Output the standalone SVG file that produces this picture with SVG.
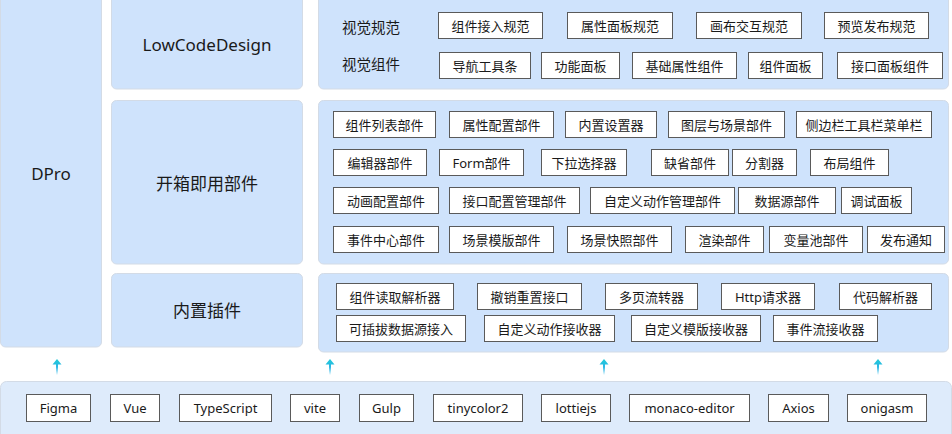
<svg xmlns="http://www.w3.org/2000/svg" width="952" height="434" viewBox="0 0 952 434">
<defs>
<style>
.panel{fill:#cfe3fc;stroke:#d3dbe6;stroke-width:1}
.base{fill:#deebfb;stroke:#d3dbe6;stroke-width:1}
.box{fill:#ffffff;stroke:#5a5a5a;stroke-width:1}
text{font-family:"Noto Sans","Noto Sans CJK SC",sans-serif;fill:#1a1a1a;text-anchor:middle;dominant-baseline:central}
.t{font-size:13px}
.h{font-size:17px}
.l{font-size:14.5px}
</style>
<linearGradient id="ag" x1="0" y1="0" x2="0" y2="1">
<stop offset="0" stop-color="#1fcbd6"/>
<stop offset="0.5" stop-color="#2bb6e6"/>
<stop offset="1" stop-color="#2bb6e6" stop-opacity="0"/>
</linearGradient>
</defs>

<g id="dpro"><rect class="panel" x="0.5" y="-5" width="101" height="352" rx="5"/><text class="h" x="51" y="173">DPro</text></g>
<g id="lowcodedesign"><rect class="panel" x="111.5" y="-5" width="191" height="94" rx="5"/><text class="h" x="207" y="44">LowCodeDesign</text></g>
<g id="kaixiang"><rect class="panel" x="111.5" y="100.5" width="191" height="163.5" rx="5"/><text class="h" x="207" y="183">开箱即用部件</text></g>
<g id="neizhi"><rect class="panel" x="111.5" y="273.5" width="191" height="73.5" rx="5"/><text class="h" x="207" y="310">内置插件</text></g>

<g id="panel-top"><rect class="panel" x="318.5" y="-5" width="630" height="94" rx="5"/></g>
<g id="panel-mid"><rect class="panel" x="318.5" y="100.5" width="630" height="163.5" rx="5"/></g>
<g id="panel-bot"><rect class="panel" x="318.5" y="273.5" width="630" height="78.5" rx="5"/></g>
<g id="panel-base"><rect class="base" x="0.5" y="381.5" width="951" height="60" rx="6"/></g>

<g id="label-shijueguifan"><text class="l" x="371" y="27">视觉规范</text></g>
<g id="label-shijuezujian"><text class="l" x="371" y="64">视觉组件</text></g>

<g id="n-zujianjieru"><rect class="box" x="438.5" y="12.5" width="104" height="26"/><text class="t" x="490.5" y="25.5">组件接入规范</text></g>
<g id="n-shuxingmianban"><rect class="box" x="567.5" y="12.5" width="105" height="26"/><text class="t" x="620" y="25.5">属性面板规范</text></g>
<g id="n-huabujiaohu"><rect class="box" x="696.5" y="12.5" width="105" height="26"/><text class="t" x="749" y="25.5">画布交互规范</text></g>
<g id="n-yulanfabu"><rect class="box" x="824.5" y="12.5" width="104" height="26"/><text class="t" x="876.5" y="25.5">预览发布规范</text></g>

<g id="n-daohang"><rect class="box" x="439.5" y="52.5" width="91" height="26"/><text class="t" x="485" y="65.5">导航工具条</text></g>
<g id="n-gongneng"><rect class="box" x="541.5" y="52.5" width="78" height="26"/><text class="t" x="580.5" y="65.5">功能面板</text></g>
<g id="n-jichushuxing"><rect class="box" x="632.5" y="52.5" width="104" height="26"/><text class="t" x="684.5" y="65.5">基础属性组件</text></g>
<g id="n-zujianmianban"><rect class="box" x="748.5" y="52.5" width="74" height="26"/><text class="t" x="785.5" y="65.5">组件面板</text></g>
<g id="n-jiekoumianban"><rect class="box" x="837.5" y="52.5" width="105" height="26"/><text class="t" x="890" y="65.5">接口面板组件</text></g>

<g id="n-zujianliebiao"><rect class="box" x="333.5" y="111.5" width="102" height="26"/><text class="t" x="384.5" y="124.5">组件列表部件</text></g>
<g id="n-shuxingpeizhi"><rect class="box" x="449.5" y="111.5" width="104" height="26"/><text class="t" x="501.5" y="124.5">属性配置部件</text></g>
<g id="n-neizhishezhi"><rect class="box" x="565.5" y="111.5" width="91" height="26"/><text class="t" x="611" y="124.5">内置设置器</text></g>
<g id="n-tuceng"><rect class="box" x="668.5" y="111.5" width="116" height="26"/><text class="t" x="726.5" y="124.5">图层与场景部件</text></g>
<g id="n-cebianlan"><rect class="box" x="796.5" y="111.5" width="135" height="26"/><text class="t" x="864" y="124.5">侧边栏工具栏菜单栏</text></g>

<g id="n-bianjiqi"><rect class="box" x="333.5" y="149.5" width="93" height="26"/><text class="t" x="380" y="162.5">编辑器部件</text></g>
<g id="n-form"><rect class="box" x="439.5" y="149.5" width="84" height="26"/><text class="t" x="481.5" y="162.5">Form部件</text></g>
<g id="n-xiala"><rect class="box" x="541.5" y="149.5" width="85" height="26"/><text class="t" x="584" y="162.5">下拉选择器</text></g>
<g id="n-quesheng"><rect class="box" x="651.5" y="149.5" width="77" height="26"/><text class="t" x="690" y="162.5">缺省部件</text></g>
<g id="n-fenge"><rect class="box" x="732.5" y="149.5" width="64" height="26"/><text class="t" x="764.5" y="162.5">分割器</text></g>
<g id="n-buju"><rect class="box" x="810.5" y="149.5" width="78" height="26"/><text class="t" x="849.5" y="162.5">布局组件</text></g>

<g id="n-donghua"><rect class="box" x="333.5" y="187.5" width="105" height="26"/><text class="t" x="386" y="200.5">动画配置部件</text></g>
<g id="n-jiekoupeizhi"><rect class="box" x="449.5" y="187.5" width="130" height="26"/><text class="t" x="514.5" y="200.5">接口配置管理部件</text></g>
<g id="n-zidingyidongzuo"><rect class="box" x="590.5" y="187.5" width="144" height="26"/><text class="t" x="662.5" y="200.5">自定义动作管理部件</text></g>
<g id="n-shujuyuan"><rect class="box" x="738.5" y="187.5" width="97" height="26"/><text class="t" x="787" y="200.5">数据源部件</text></g>
<g id="n-tiaoshi"><rect class="box" x="841.5" y="187.5" width="70" height="26"/><text class="t" x="876.5" y="200.5">调试面板</text></g>

<g id="n-shijianzhongxin"><rect class="box" x="333.5" y="226.5" width="105" height="26"/><text class="t" x="386" y="239.5">事件中心部件</text></g>
<g id="n-changjingmoban"><rect class="box" x="449.5" y="226.5" width="104" height="26"/><text class="t" x="501.5" y="239.5">场景模版部件</text></g>
<g id="n-changjingkuaizhao"><rect class="box" x="567.5" y="226.5" width="104" height="26"/><text class="t" x="619.5" y="239.5">场景快照部件</text></g>
<g id="n-xuanran"><rect class="box" x="685.5" y="226.5" width="78" height="26"/><text class="t" x="724.5" y="239.5">渲染部件</text></g>
<g id="n-bianliangchi"><rect class="box" x="769.5" y="226.5" width="93" height="26"/><text class="t" x="816" y="239.5">变量池部件</text></g>
<g id="n-fabutongzhi"><rect class="box" x="867.5" y="226.5" width="77" height="26"/><text class="t" x="906" y="239.5">发布通知</text></g>

<g id="n-zujianduqu"><rect class="box" x="336.5" y="283.5" width="117" height="26"/><text class="t" x="395" y="296.5">组件读取解析器</text></g>
<g id="n-chexiao"><rect class="box" x="477.5" y="283.5" width="104" height="26"/><text class="t" x="529.5" y="296.5">撤销重置接口</text></g>
<g id="n-duoye"><rect class="box" x="605.5" y="283.5" width="92" height="26"/><text class="t" x="651.5" y="296.5">多页流转器</text></g>
<g id="n-http"><rect class="box" x="721.5" y="283.5" width="93" height="26"/><text class="t" x="768" y="296.5">Http请求器</text></g>
<g id="n-daima"><rect class="box" x="839.5" y="283.5" width="92" height="26"/><text class="t" x="885.5" y="296.5">代码解析器</text></g>

<g id="n-kechaba"><rect class="box" x="336.5" y="315.5" width="129" height="26"/><text class="t" x="401" y="328.5">可插拔数据源接入</text></g>
<g id="n-dongzuojieshou"><rect class="box" x="484.5" y="315.5" width="130" height="26"/><text class="t" x="549.5" y="328.5">自定义动作接收器</text></g>
<g id="n-mobanjieshou"><rect class="box" x="631.5" y="315.5" width="129" height="26"/><text class="t" x="696" y="328.5">自定义模版接收器</text></g>
<g id="n-shijianliu"><rect class="box" x="773.5" y="315.5" width="104" height="26"/><text class="t" x="825.5" y="328.5">事件流接收器</text></g>

<g id="n-figma"><rect class="box" x="26.5" y="394.5" width="64" height="27"/><text class="t" x="58.5" y="408">Figma</text></g>
<g id="n-vue"><rect class="box" x="110.5" y="394.5" width="49" height="27"/><text class="t" x="135" y="408">Vue</text></g>
<g id="n-typescript"><rect class="box" x="179.5" y="394.5" width="92" height="27"/><text class="t" x="225.5" y="408">TypeScript</text></g>
<g id="n-vite"><rect class="box" x="290.5" y="394.5" width="49" height="27"/><text class="t" x="315" y="408">vite</text></g>
<g id="n-gulp"><rect class="box" x="359.5" y="394.5" width="54" height="27"/><text class="t" x="386.5" y="408">Gulp</text></g>
<g id="n-tinycolor2"><rect class="box" x="433.5" y="394.5" width="89" height="27"/><text class="t" x="478" y="408">tinycolor2</text></g>
<g id="n-lottiejs"><rect class="box" x="541.5" y="394.5" width="69" height="27"/><text class="t" x="576" y="408">lottiejs</text></g>
<g id="n-monaco"><rect class="box" x="629.5" y="394.5" width="120" height="27"/><text class="t" x="689.5" y="408">monaco-editor</text></g>
<g id="n-axios"><rect class="box" x="768.5" y="394.5" width="60" height="27"/><text class="t" x="798.5" y="408">Axios</text></g>
<g id="n-onigasm"><rect class="box" x="847.5" y="394.5" width="79" height="27"/><text class="t" x="887" y="408">onigasm</text></g>

<g id="connectors" fill="url(#ag)">
<path d="M57 359 L61.5 364.5 L58 364.5 L58 375 L56 375 L56 364.5 L52.5 364.5 Z"/>
<path d="M330 359 L334.5 364.5 L331 364.5 L331 375 L329 375 L329 364.5 L325.5 364.5 Z"/>
<path d="M604 359 L608.5 364.5 L605 364.5 L605 375 L603 375 L603 364.5 L599.5 364.5 Z"/>
<path d="M878 359 L882.5 364.5 L879 364.5 L879 375 L877 375 L877 364.5 L873.5 364.5 Z"/>
</g>
</svg>
